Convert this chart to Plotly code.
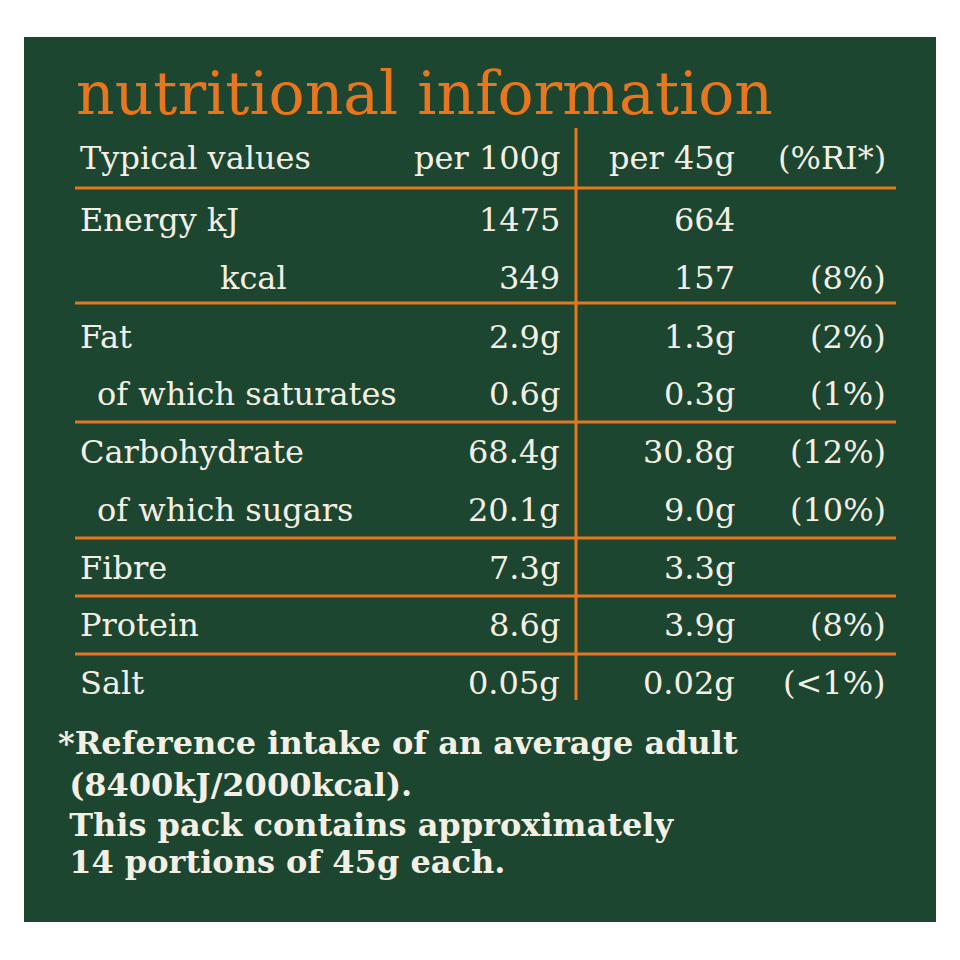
import plotly.graph_objects as go

labels = ["Energy kJ", "kcal", "Fat", "of which saturates", "Carbohydrate", "of which sugars", "Fibre", "Protein", "Salt"]
indent = [78, 218, 78, 95, 78, 95, 78, 78, 78]
per100 = ["1475", "349", "2.9g", "0.6g", "68.4g", "20.1g", "7.3g", "8.6g", "0.05g"]
per45 = ["664", "157", "1.3g", "0.3g", "30.8g", "9.0g", "3.3g", "3.9g", "0.02g"]
ri = ["", "(8%)", "(2%)", "(1%)", "(12%)", "(10%)", "", "(8%)", "(<1%)"]
row_y = [220, 278, 337, 394, 452, 510, 568, 625, 683]
rule_y = [188, 303, 422, 538, 596, 654]
footnote = ["*Reference intake of an average adult", " (8400kJ/2000kcal).", " This pack contains approximately", " 14 portions of 45g each."]
foot_y = [743, 785, 825, 862]

GREEN = "#1d4630"
ORANGE = "#e8761e"
TXT = "#f4efe4"
FONT = "DejaVu Serif"
OFF = 8  # page offset compensation

fig = go.Figure()
shapes = [dict(type="rect", x0=24, x1=936, y0=37, y1=922, fillcolor=GREEN, line_width=0, layer="below")]
for y in rule_y:
    shapes.append(dict(type="line", x0=75, x1=896, y0=y, y1=y, line=dict(color=ORANGE, width=3)))
shapes.append(dict(type="line", x0=576, x1=576, y0=128, y1=700, line=dict(color=ORANGE, width=3)))

ann = []
def t(x, y, s, anchor="left", size=32, color=TXT):
    ann.append(dict(x=x, y=y, text=s, xanchor=anchor, yanchor="middle", showarrow=False,
                    font=dict(family=FONT, size=size, color=color)))

t(74, 93, "nutritional information", size=60, color=ORANGE)
t(78, 158, "Typical values")
t(562, 158, "per 100g", "right")
t(737, 158, "per 45g", "right")
t(888, 158, "(%RI*)", "right")
for i, lab in enumerate(labels):
    y = row_y[i]
    t(indent[i], y, lab)
    t(562, y, per100[i], "right")
    t(737, y, per45[i], "right")
    if ri[i]:
        t(888, y, ri[i], "right")
for s, y in zip(footnote, foot_y):
    t(56, y, "<b>" + s + "</b>", size=32)

fig.update_layout(width=960, height=960, margin=dict(l=0, r=0, t=0, b=0),
                  paper_bgcolor="white", plot_bgcolor="white", shapes=shapes, annotations=ann,
                  xaxis=dict(range=[OFF, 960 + OFF], visible=False, fixedrange=True),
                  yaxis=dict(range=[960 + OFF, OFF], visible=False, fixedrange=True), showlegend=False)
fig.write_html("out.html", config={"displayModeBar": False})
